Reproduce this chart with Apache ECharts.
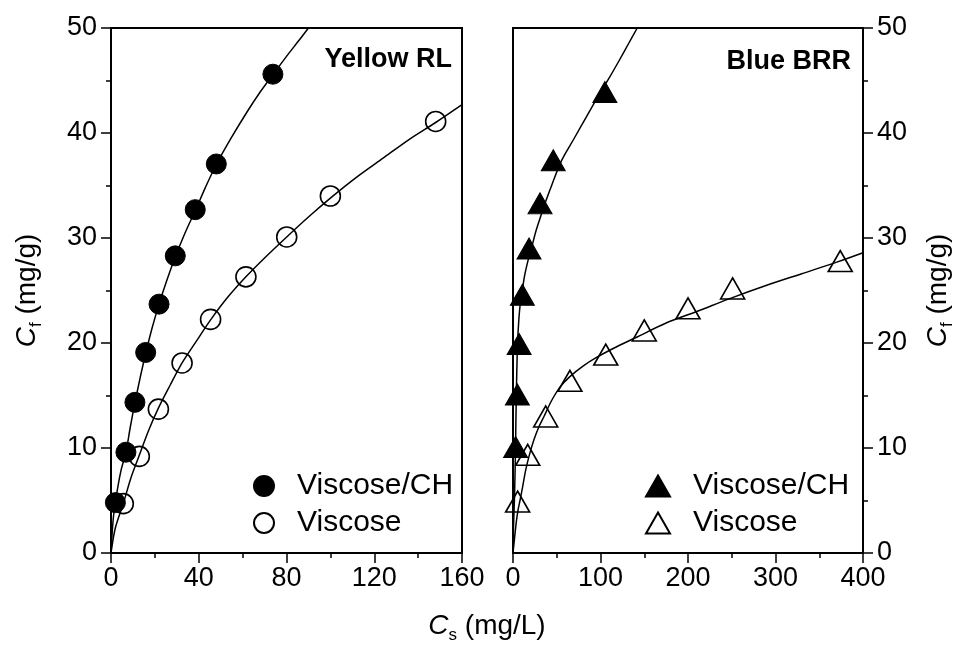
<!DOCTYPE html>
<html>
<head>
<meta charset="utf-8">
<script src="https://cdn.jsdelivr.net/npm/echarts@6/dist/echarts.min.js"></script>
<style>
  html, body { margin: 0; padding: 0; background: #fff; }
  #chart { width: 963px; height: 654px; }
</style>
</head>
<body>
<div id="chart"></div>
<script>
// Yellow RL panel: measured points
const yellowCH = [[2, 4.8], [6.8, 9.6], [10.9, 14.35], [15.8, 19.1], [21.9, 23.7], [29.3, 28.3], [38.4, 32.7], [48, 37.05], [73.8, 45.6]]
const yellowVis = [[5.6, 4.7], [12.9, 9.2], [21.6, 13.7], [32.4, 18.1], [45.4, 22.25], [61.5, 26.3], [80.1, 30.1], [100, 34.0], [148, 41.1]]
// Yellow RL panel: fitted curves
const yellowCHFit = [[0, 0], [1, 3.2], [2.5, 5.5], [4.5, 7.8], [6.8, 9.6], [8.8, 12], [10.9, 14.3], [13.3, 16.7], [15.8, 19.0], [18.7, 21.4], [21.9, 23.7], [25.5, 26.0], [29.3, 28.2], [33.8, 30.5], [38.4, 32.6], [43, 34.8], [48, 37.0], [55, 39.6], [62, 42], [68, 43.9], [74, 45.6], [80, 47.3], [86, 48.9], [90, 50]]
const yellowVisFit = [[0, 0], [2, 2.4], [5.6, 4.7], [9, 7.1], [12.9, 9.3], [17, 11.6], [21.6, 13.8], [27, 16], [32.4, 18.1], [39, 20.2], [45.4, 22.2], [53, 24.3], [61.5, 26.3], [70, 28.1], [80.1, 30.1], [90, 32], [100, 33.8], [112, 35.8], [124, 37.6], [136, 39.4], [148, 41.0], [160, 42.7]]

// Blue BRR panel: measured points
const blueCH = [[3, 10.1], [5, 15.1], [7, 19.9], [10.7, 24.6], [18.3, 29.0], [30.9, 33.3], [46, 37.4], [105, 43.9]]
const blueVis = [[5.3, 4.9], [16.8, 9.35], [37.4, 13.0], [65, 16.4], [106, 18.9], [150, 21.2], [200, 23.3], [251, 25.2], [374, 27.8]]
// Blue BRR panel: fitted curves
const blueCHFit = [[0, 0], [0.6, 2.5], [1.6, 5], [2.3, 7.5], [2.9, 10], [3.3, 12.5], [3.8, 15], [4.4, 17.5], [5.2, 20], [6.5, 22], [8, 23.5], [10, 24.6], [13, 26.3], [17, 27.8], [21, 29], [26, 30.6], [31, 31.9], [36.6, 33.3], [45, 35.2], [55.6, 37.4], [70, 39.5], [85, 41.7], [100, 43.9], [111, 45.4], [122, 47], [132, 48.5], [142, 50]]
const blueVisFit = [[0, 0], [2, 1.6], [4, 3.1], [6, 4.2], [8, 5.0], [11, 6.3], [14.5, 7.9], [18.6, 9.3], [24, 10.8], [30, 12.1], [35.4, 13.0], [44, 14.5], [53.7, 15.8], [65, 16.8], [80, 17.8], [95, 18.6], [115, 19.5], [140, 20.5], [175, 21.9], [210, 23.0], [250, 24.3], [290, 25.5], [330, 26.6], [370, 27.7], [400, 28.6]]

const font = 'Liberation Sans, Arial, sans-serif'
const black = '#000'
const subRich = {
  i: { fontStyle: 'italic', fontSize: 28, fontFamily: font, color: black },
  s: { fontSize: 17, fontFamily: font, color: black, padding: [18, 0, 0, 0] },
  t: { fontSize: 28, fontFamily: font, color: black }
}

function xAxisOf(grid, max, interval) {
  return {
    type: 'value',
    gridIndex: grid,
    min: 0,
    max: max,
    interval: interval,
    axisLine: { lineStyle: { color: black, width: 2 } },
    axisTick: { length: 10, lineStyle: { color: black, width: 1.5 } },
    minorTick: { show: true, splitNumber: 2, length: 5, lineStyle: { color: black, width: 1.5 } },
    axisLabel: { fontSize: 27, fontFamily: font, color: black, margin: 12 },
    splitLine: { show: false }
  }
}

function yAxisOf(grid, pos, gap) {
  return {
    type: 'value',
    gridIndex: grid,
    position: pos,
    min: 0,
    max: 50,
    interval: 10,
    name: '{i|C}{s|f}{t| (mg/g)}',
    nameLocation: 'middle',
    nameRotate: 90,
    nameGap: gap,
    nameTextStyle: { rich: subRich },
    axisLine: { onZero: false, lineStyle: { color: black, width: 2 } },
    axisTick: { length: 10, lineStyle: { color: black, width: 1.5 } },
    minorTick: { show: true, splitNumber: 2, length: 5, lineStyle: { color: black, width: 1.5 } },
    axisLabel: { fontSize: 27, fontFamily: font, color: black, margin: 14 },
    splitLine: { show: false }
  }
}

function fitLine(data, grid) {
  return {
    type: 'line',
    data: data,
    xAxisIndex: grid,
    yAxisIndex: grid,
    showSymbol: false,
    smooth: 0.3,
    lineStyle: { color: black, width: 1.5 },
    silent: true,
    z: 2
  }
}

function dots(name, data, grid, symbol, size, filled) {
  return {
    type: 'scatter',
    name: name,
    data: data,
    xAxisIndex: grid,
    yAxisIndex: grid,
    symbol: symbol,
    symbolSize: size,
    itemStyle: filled
      ? { color: black, borderColor: black, borderWidth: 1, opacity: 1 }
      : { color: 'rgba(0,0,0,0)', borderColor: black, borderWidth: 1.6, opacity: 1 },
    z: 3
  }
}

function legendOf(left, names, icon, w, h) {
  return {
    orient: 'vertical',
    left: left,
    top: 471,
    itemWidth: w,
    itemHeight: h,
    itemGap: 7,
    padding: 0,
    selectedMode: false,
    symbolKeepAspect: false,
    data: names.map(n => ({ name: n, icon: icon })),
    textStyle: { fontSize: 30, fontFamily: font, color: black, padding: [0, 0, 0, 18] }
  }
}

const chart = echarts.init(document.getElementById('chart'))
chart.setOption({
  backgroundColor: '#fff',
  animation: false,
  title: [
    { text: 'Yellow RL', right: 511, top: 46, padding: 0, textStyle: { fontSize: 27, fontWeight: 'bold', fontFamily: font, color: black } },
    { text: 'Blue BRR', right: 112, top: 48, padding: 0, textStyle: { fontSize: 27, fontWeight: 'bold', fontFamily: font, color: black } }
  ],
  grid: [
    { left: 111, top: 28, width: 351, height: 525, show: true, borderColor: black, borderWidth: 2 },
    { left: 513, top: 28, width: 350, height: 525, show: true, borderColor: black, borderWidth: 2 }
  ],
  xAxis: [xAxisOf(0, 160, 40), xAxisOf(1, 400, 100)],
  yAxis: [yAxisOf(0, 'left', 66), yAxisOf(1, 'right', 58)],
  legend: [
    legendOf(253, ['Viscose/CH', 'Viscose'], 'circle', 20, 20),
    legendOf(645, ['Viscose/CH ', 'Viscose '], 'triangle', 24, 21)
  ],
  graphic: [{
    type: 'text',
    x: 487,
    y: 626,
    style: {
      text: '{i|C}{s|s}{t| (mg/L)}',
      rich: subRich,
      align: 'center',
      verticalAlign: 'middle'
    }
  }],
  series: [
    fitLine(yellowCHFit, 0),
    fitLine(yellowVisFit, 0),
    fitLine(blueCHFit, 1),
    fitLine(blueVisFit, 1),
    dots('Viscose/CH', yellowCH, 0, 'circle', 20, true),
    dots('Viscose', yellowVis, 0, 'circle', 20, false),
    dots('Viscose/CH ', blueCH, 1, 'triangle', [24, 21], true),
    dots('Viscose ', blueVis, 1, 'triangle', [24, 21], false)
  ]
})
</script>
</body>
</html>
